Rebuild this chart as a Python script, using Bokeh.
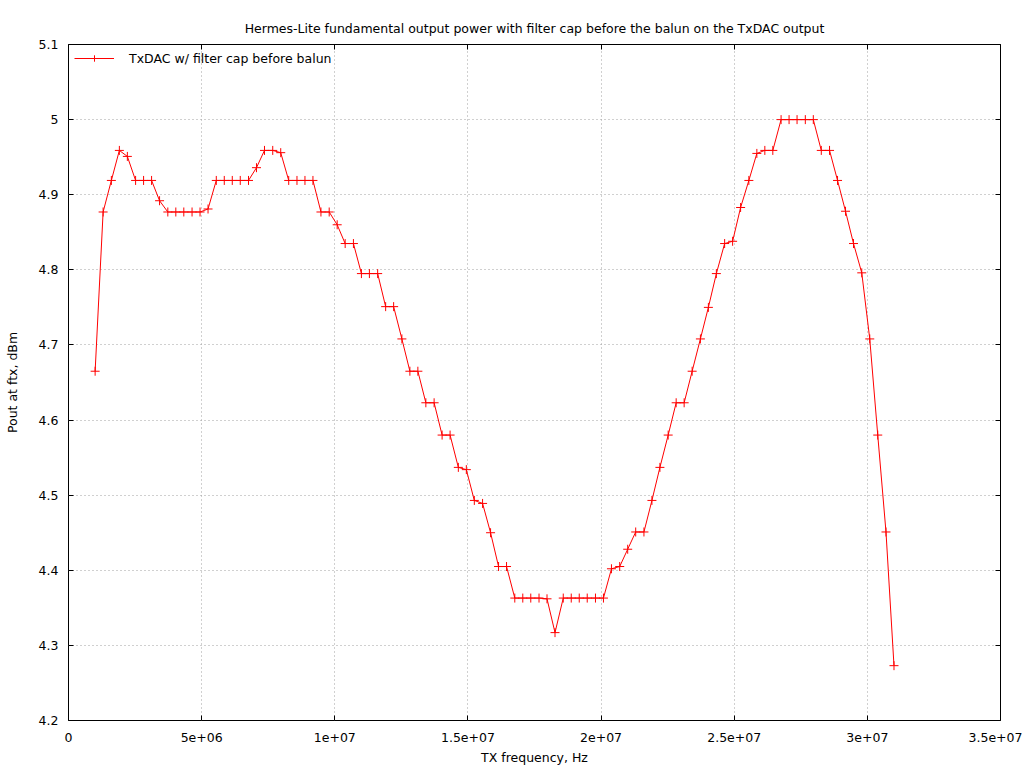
from bokeh.plotting import figure
from bokeh.models import (LinearAxis, Legend, LegendItem, FixedTicker, Range1d,
                          CustomJSTickFormatter)
from bokeh.embed import file_html
from bokeh.resources import INLINE

# ---- data ----
freq_mhz = [1.00, 1.30, 1.61, 1.91, 2.21, 2.52, 2.82, 3.12, 3.42, 3.73,
            4.03, 4.33, 4.64, 4.94, 5.24, 5.55, 5.85, 6.15, 6.45, 6.76,
            7.06, 7.36, 7.67, 7.97, 8.27, 8.58, 8.88, 9.18, 9.48, 9.79,
            10.09, 10.39, 10.70, 11.00, 11.30, 11.61, 11.91, 12.21, 12.52, 12.82,
            13.12, 13.42, 13.73, 14.03, 14.33, 14.64, 14.94, 15.24, 15.55, 15.85,
            16.15, 16.45, 16.76, 17.06, 17.36, 17.67, 17.97, 18.27, 18.58, 18.88,
            19.18, 19.48, 19.79, 20.09, 20.39, 20.70, 21.00, 21.30, 21.61, 21.91,
            22.21, 22.52, 22.82, 23.12, 23.42, 23.73, 24.03, 24.33, 24.64, 24.94,
            25.24, 25.55, 25.85, 26.15, 26.45, 26.76, 27.06, 27.36, 27.67, 27.97,
            28.27, 28.58, 28.88, 29.18, 29.48, 29.79, 30.09, 30.39, 30.70, 31.00]

pout_dbm = [4.665, 4.877, 4.919, 4.959, 4.951, 4.919, 4.919, 4.919, 4.892, 4.877,
            4.877, 4.877, 4.877, 4.877, 4.881, 4.919, 4.919, 4.919, 4.919, 4.919,
            4.936, 4.959, 4.959, 4.956, 4.919, 4.919, 4.919, 4.919, 4.877, 4.877,
            4.860, 4.835, 4.835, 4.795, 4.795, 4.795, 4.751, 4.751, 4.708, 4.665,
            4.665, 4.623, 4.623, 4.580, 4.580, 4.537, 4.534, 4.493, 4.489, 4.450,
            4.405, 4.405, 4.363, 4.363, 4.363, 4.363, 4.362, 4.317, 4.363, 4.363,
            4.363, 4.363, 4.363, 4.363, 4.402, 4.405, 4.428, 4.451, 4.451, 4.493,
            4.537, 4.580, 4.623, 4.623, 4.665, 4.708, 4.750, 4.795, 4.835, 4.838,
            4.883, 4.919, 4.955, 4.959, 4.959, 5.000, 5.000, 5.000, 5.000, 5.000,
            4.959, 4.959, 4.919, 4.878, 4.835, 4.796, 4.708, 4.580, 4.451, 4.273]

tx_freq_hz = [f * 1e6 for f in freq_mhz]

x_ticks = [0, 5000000, 10000000, 15000000, 20000000, 25000000, 30000000, 35000000]
x_tick_labels = ["0", "5e+06", "1e+07", "1.5e+07", "2e+07", "2.5e+07", "3e+07", "3.5e+07"]
y_ticks = [4.2, 4.3, 4.4, 4.5, 4.6, 4.7, 4.8, 4.9, 5.0, 5.1]
y_tick_labels = ["4.2", "4.3", "4.4", "4.5", "4.6", "4.7", "4.8", "4.9", "5", "5.1"]

title_text = "Hermes-Lite fundamental output power with filter cap before the balun on the TxDAC output"
series_label = "TxDAC w/ filter cap before balun"
x_label = "TX frequency, Hz"
y_label = "Pout at ftx, dBm"

FONT = "DejaVu Sans"
FSIZE = "12.5px"

p = figure(frame_width=932, frame_height=676,
           min_border_left=68, min_border_right=22,
           min_border_top=44, min_border_bottom=46,
           x_range=Range1d(0, 35000000), y_range=Range1d(4.2, 5.1),
           output_backend="svg", toolbar_location=None,
           title=title_text)

p.background_fill_color = "white"
p.border_fill_color = "white"
p.outline_line_color = "black"
p.outline_line_width = 1

p.title.text_font = FONT
p.title.text_font_size = FSIZE
p.title.text_font_style = "normal"
p.title.align = "center"
p.title.text_color = "black"
p.title.standoff = 17

lookup_code = """
let best = -1;
for (let i = 0; i < tvals.length; i++) {
  if (Math.abs(tvals[i] - tick) <= 1e-6 * Math.max(1, Math.abs(tvals[i]))) { best = i; }
}
return best >= 0 ? tlabels[best] : "";
"""

xfmt = CustomJSTickFormatter(args=dict(tvals=x_ticks, tlabels=x_tick_labels), code=lookup_code)
yfmt = CustomJSTickFormatter(args=dict(tvals=y_ticks, tlabels=y_tick_labels), code=lookup_code)
blank = CustomJSTickFormatter(code='return "";')


def style_axis(ax, tick_list, fmt):
    ax.ticker = FixedTicker(ticks=tick_list)
    ax.formatter = fmt
    ax.axis_line_color = None
    ax.major_tick_line_color = "black"
    ax.major_tick_in = 5
    ax.major_tick_out = 0
    ax.minor_tick_line_color = None
    ax.major_label_text_font = FONT
    ax.major_label_text_font_size = FSIZE
    ax.major_label_text_color = "black"
    ax.axis_label_text_font = FONT
    ax.axis_label_text_font_size = FSIZE
    ax.axis_label_text_font_style = "normal"
    ax.axis_label_text_color = "black"


xa = p.xaxis[0]
style_axis(xa, x_ticks, xfmt)
xa.axis_label = x_label
xa.major_label_standoff = 12
xa.axis_label_standoff = 5

ya = p.yaxis[0]
style_axis(ya, y_ticks, yfmt)
ya.axis_label = y_label
ya.major_label_standoff = 10
ya.axis_label_standoff = 16

top_ax = LinearAxis()
style_axis(top_ax, x_ticks, blank)
top_ax.major_label_standoff = 0
p.add_layout(top_ax, "above")

right_ax = LinearAxis()
style_axis(right_ax, y_ticks, blank)
right_ax.major_label_standoff = 0
p.add_layout(right_ax, "right")

for g in (p.xgrid[0], p.ygrid[0]):
    g.grid_line_color = "#a0a0a0"
    g.grid_line_width = 1
    g.grid_line_dash = "1 3"
p.xgrid[0].ticker = FixedTicker(ticks=x_ticks)
p.ygrid[0].ticker = FixedTicker(ticks=y_ticks)

line_r = p.line(tx_freq_hz, pout_dbm, line_color="#ff0000", line_width=1)
pts_r = p.scatter(tx_freq_hz, pout_dbm, marker="cross", size=9,
                  line_color="#ff0000", line_width=1)

legend = Legend(items=[LegendItem(label=series_label, renderers=[line_r, pts_r])],
                location="top_left")
legend.border_line_color = None
legend.background_fill_alpha = 0
legend.label_text_font = FONT
legend.label_text_font_size = FSIZE
legend.label_text_color = "black"
legend.glyph_width = 40
legend.glyph_height = 16
legend.padding = 12
legend.margin = 6
legend.label_standoff = 15
p.add_layout(legend)

open("out.html", "w").write(file_html(p, INLINE))
